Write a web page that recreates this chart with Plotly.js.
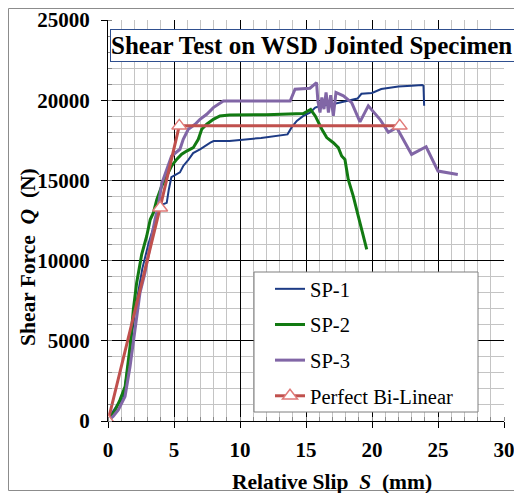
<!DOCTYPE html>
<html>
<head>
<meta charset="utf-8">
<script src="https://cdn.plot.ly/plotly-3.0.1.min.js"></script>
<style>
  html, body { margin: 0; padding: 0; background: #fff; }
  #chart { width: 514px; height: 493px; }
</style>
</head>
<body>
<div id="chart"></div>
<script>
// ---- data ----
const sp1X = [0, 0.3, 0.7, 1.15, 1.6, 2.05, 2.6, 3.05, 3.45, 3.8, 4.1, 4.45, 4.6, 4.8, 5.45, 5.7, 6.1, 6.45, 7.0, 7.35, 7.75, 8.0, 9.2, 11.6, 13.6, 13.9, 14.3, 14.8, 15.3, 15.7, 16.1, 17.0, 18.1, 18.9, 19.2, 20.0, 20.7, 22.0, 23.0, 23.8, 23.9, 23.95];
const sp1Y = [0, 500, 1000, 1400, 4000, 6900, 9500, 11000, 12100, 13100, 13500, 13600, 14400, 15200, 15500, 15900, 16300, 16700, 16950, 17150, 17350, 17450, 17450, 17650, 17870, 18290, 18710, 19020, 19230, 19540, 19650, 19750, 19950, 20100, 20400, 20450, 20700, 20850, 20900, 20950, 20900, 19650];

const sp2X = [0, 0.5, 0.9, 1.3, 1.67, 1.92, 2.17, 2.55, 2.93, 3.2, 3.45, 3.7, 4.07, 4.45, 4.82, 5.2, 5.58, 5.96, 6.46, 6.84, 7.1, 7.48, 7.98, 8.48, 9.2, 12.0, 14.8, 15.35, 15.7, 16.2, 16.57, 17.07, 17.45, 17.7, 17.95, 18.2, 18.58, 18.96, 19.34, 19.6];
const sp2Y = [0, 600, 1300, 2150, 4640, 6940, 8600, 10380, 11520, 12560, 13000, 13810, 14650, 15270, 15900, 16310, 16630, 16830, 17040, 17560, 18190, 18500, 18810, 19020, 19080, 19100, 19170, 19420, 19020, 18190, 17670, 17350, 17040, 16520, 16310, 15060, 14020, 12770, 11520, 10700];

const sp3X = [0, 0.4, 0.78, 1.29, 1.67, 2.05, 2.42, 2.8, 3.18, 3.56, 3.81, 4.07, 4.82, 5.45, 5.7, 6.08, 6.6, 6.97, 7.48, 7.98, 8.36, 8.74, 13.8, 14.17, 15.3, 15.8, 15.9, 16.06, 16.2, 16.36, 16.52, 16.7, 16.87, 17.07, 17.27, 17.83, 18.46, 19.09, 19.72, 20.6, 21.24, 21.87, 23.0, 24.1, 25.0, 26.5];
const sp3Y = [0, 300, 690, 1520, 3390, 5890, 7980, 9230, 10900, 12560, 13390, 14800, 16520, 16940, 17560, 18190, 18500, 18810, 19120, 19540, 19750, 19950, 19950, 20690, 20750, 21100, 19960, 19230, 20170, 19440, 20480, 19230, 20310, 19020, 20480, 20270, 19850, 18650, 19650, 18810, 18000, 18290, 16620, 17100, 15580, 15370];

const biX = [0, 3.95, 5.4, 22.1];
const biY = [0, 13300, 18400, 18400];

const seriesNames = ['SP-1', 'SP-2', 'SP-3', 'Perfect Bi-Linear'];
const xTickVals = [0, 5, 10, 15, 20, 25, 30];
const yTickVals = [0, 5000, 10000, 15000, 20000, 25000];

// ---- chart ----
const serif = 'Liberation Serif, Times New Roman, serif';
const traces = [
  {x: sp1X, y: sp1Y, name: seriesNames[0], mode: 'lines', legendgroup: 'a',
   line: {color: '#1d3b85', width: 2}},
  {x: sp2X, y: sp2Y, name: seriesNames[1], mode: 'lines', legendgroup: 'b',
   line: {color: '#127a12', width: 3}},
  {x: sp3X, y: sp3Y, name: seriesNames[2], mode: 'lines', legendgroup: 'c',
   line: {color: '#8166a6', width: 3}},
  {x: biX, y: biY, name: seriesNames[3], mode: 'lines+markers', legendgroup: 'd',
   line: {color: '#c0504d', width: 3},
   marker: {symbol: 'triangle-up', size: 13, color: '#ffffff',
            line: {color: '#e07a78', width: 1.5}}}
];

const px = (p) => (p - 108) / 396;   // pixel x -> paper
const py = (p) => (421 - p) / 401;   // pixel y -> paper

const layout = {
  width: 514, height: 493,
  margin: {l: 108, r: 10, t: 20, b: 72},
  paper_bgcolor: '#ffffff', plot_bgcolor: '#ffffff',
  showlegend: true,
  font: {family: serif, color: '#000'},
  xaxis: {
    range: [0, 30], tickvals: xTickVals, ticktext: xTickVals.map(String),
    showgrid: true, gridcolor: '#000', gridwidth: 1,
    showline: true, linecolor: '#000', linewidth: 1,
    ticks: 'outside', ticklen: 6, tickcolor: '#000',
    tickfont: {family: serif, size: 21, weight: 'bold', color: '#000'},
    ticklabelstandoff: 4, ticklabeloverflow: 'allow',
    zeroline: false, fixedrange: true,
    minor: {dtick: 1, showgrid: true, gridcolor: '#c4c4c4', gridwidth: 1,
            ticks: 'inside', ticklen: 4, tickcolor: '#888'}
  },
  yaxis: {
    range: [0, 25000], tickvals: yTickVals, ticktext: yTickVals.map(String),
    showgrid: true, gridcolor: '#000', gridwidth: 1,
    showline: true, linecolor: '#000', linewidth: 1,
    ticks: 'outside', ticklen: 6, tickcolor: '#000',
    tickfont: {family: serif, size: 21, weight: 'bold', color: '#000'},
    ticklabelstandoff: 7, ticklabeloverflow: 'allow',
    zeroline: false, fixedrange: true,
    minor: {dtick: 1000, showgrid: true, gridcolor: '#c4c4c4', gridwidth: 1,
            ticks: 'inside', ticklen: 4, tickcolor: '#888'}
  },
  legend: {
    x: px(270), y: py(269), xanchor: 'left', yanchor: 'top',
    bgcolor: 'rgba(0,0,0,0)', borderwidth: 0,
    font: {family: serif, size: 20.5, color: '#000'},
    tracegroupgap: 6, itemwidth: 30
  },
  shapes: [
    {type: 'rect', xref: 'paper', yref: 'paper', layer: 'above',
     x0: px(254), x1: px(478), y0: py(412), y1: py(272),
     fillcolor: '#ffffff', line: {color: '#7f7f7f', width: 1}},
    {type: 'rect', xref: 'paper', yref: 'paper', layer: 'above',
     x0: px(8.5), x1: px(520), y0: py(490.5), y1: py(8.5),
     fillcolor: 'rgba(0,0,0,0)', line: {color: '#8c8c8c', width: 1}}
  ],
  annotations: [
    {xref: 'paper', yref: 'paper', x: px(110), y: py(46), xanchor: 'left', yanchor: 'middle',
     text: '<b>Shear Test on WSD Jointed Specimen</b>', showarrow: false,
     align: 'left', width: 440, height: 31,
     font: {family: serif, size: 25, color: '#000'},
     bgcolor: '#ffffff', bordercolor: '#2f4f8f', borderwidth: 1, borderpad: 0},
    {xref: 'paper', yref: 'paper', x: px(28), y: py(257), xanchor: 'center', yanchor: 'middle',
     text: '<b>Shear Force  <i>Q</i>  (N)</b>', showarrow: false, textangle: -90,
     font: {family: serif, size: 21.5, color: '#000'}},
    {xref: 'paper', yref: 'paper', x: px(332), y: py(482), xanchor: 'center', yanchor: 'middle',
     text: '<b>Relative Slip  <i>S</i>  (mm)</b>', showarrow: false,
     font: {family: serif, size: 21.5, color: '#000'}}
  ]
};

Plotly.newPlot('chart', traces, layout, {displayModeBar: false, staticPlot: true});
</script>
</body>
</html>
